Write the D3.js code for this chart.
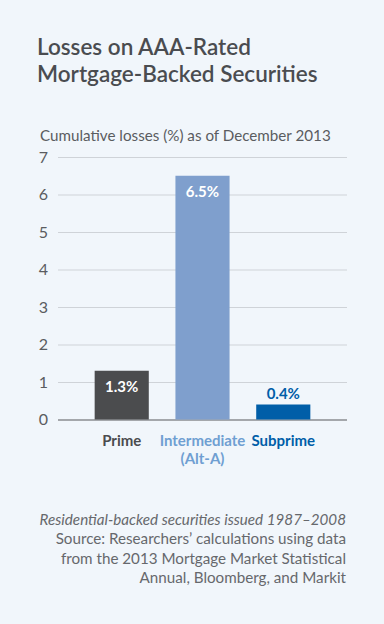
<!DOCTYPE html>
<html>
<head>
<meta charset="utf-8">
<script src="https://cdn.jsdelivr.net/npm/d3@7"></script>
<style>
  html, body { margin: 0; padding: 0; background: #f1f6fb; }
  svg { display: block; font-family: "Source Sans Pro", Lato, "Noto Sans", sans-serif; }
</style>
</head>
<body>
<svg id="chart" width="384" height="624"></svg>
<script>
  // Chart data.
  const categories = ['Prime', 'Intermediate', 'Subprime'];
  const subLabels = ['', '(Alt-A)', ''];
  const losses = [1.3, 6.5, 0.4];
  const yTicks = [0, 1, 2, 3, 4, 5, 6, 7];

  const barColors = ['#4b4c4e', '#7f9fcd', '#005ea8'];
  const labelColors = ['#4b4c4e', '#6f9fd2', '#005ea8'];
  const fontStack = '"Source Sans Pro", Lato, "Noto Sans", sans-serif';

  const svg = d3.select('#chart');

  svg.append('rect')
    .attr('width', 384).attr('height', 624)
    .attr('fill', '#f1f6fb');

  // Title.
  const title = svg.append('text')
    .attr('fill', '#4a4c50')
    .style('font-size', '22.5px')
    .style('font-weight', 600);
  title.append('tspan').attr('x', 37).attr('y', 55).text('Losses on AAA-Rated');
  title.append('tspan').attr('x', 37).attr('y', 82).text('Mortgage-Backed Securities');

  svg.append('text')
    .attr('x', 40).attr('y', 141)
    .attr('fill', '#5a5c60')
    .style('font-size', '15.2px')
    .text('Cumulative losses (%) as of December 2013');

  const left = 58, right = 347;

  const y = d3.scaleLinear()
    .domain([0, 7])
    .range([419.5, 157]);

  const x = d3.scaleBand()
    .domain(categories)
    .range([68, 337])
    .padding(0.33);

  // Gridlines + tick labels.
  const axis = svg.append('g')
    .attr('transform', `translate(${left},0)`)
    .call(d3.axisLeft(y).tickValues(yTicks).tickSize(-(right - left)).tickPadding(10).tickFormat(d3.format('d')));
  axis.attr('font-family', fontStack);
  axis.select('.domain').remove();
  axis.selectAll('.tick line')
    .attr('stroke', d => d === 0 ? '#8a8c90' : '#cfd3d8')
    .attr('stroke-width', d => d === 0 ? 1.5 : 1);
  axis.selectAll('.tick text')
    .attr('fill', '#5a5c60')
    .style('font-size', '16px');

  // Bars.
  svg.append('g').selectAll('rect')
    .data(losses)
    .join('rect')
    .attr('x', (d, i) => x(categories[i]))
    .attr('y', d => y(d))
    .attr('width', x.bandwidth())
    .attr('height', d => y(0) - y(d))
    .attr('fill', (d, i) => barColors[i]);

  // Value labels: inside the bar when there is room, above it otherwise.
  svg.append('g').selectAll('text')
    .data(losses)
    .join('text')
    .attr('x', (d, i) => x(categories[i]) + x.bandwidth() / 2)
    .attr('y', d => d > 1 ? y(d) + 21 : y(d) - 6)
    .attr('text-anchor', 'middle')
    .attr('fill', (d, i) => d > 1 ? '#ffffff' : barColors[i])
    .style('font-size', '15px')
    .style('font-weight', 700)
    .text(d => d3.format('.1f')(d) + '%');

  // Category labels.
  const cat = svg.append('g').selectAll('text')
    .data(categories)
    .join('text')
    .attr('x', d => x(d) + x.bandwidth() / 2)
    .attr('y', 446)
    .attr('text-anchor', 'middle')
    .attr('fill', (d, i) => labelColors[i])
    .style('font-size', '15px')
    .style('font-weight', 700);
  cat.append('tspan').text(d => d);
  cat.append('tspan')
    .attr('x', d => x(d) + x.bandwidth() / 2)
    .attr('dy', 18)
    .text((d, i) => subLabels[i]);

  // Notes.
  const notes = [
    { t: 'Residential-backed securities issued 1987\u20132008', italic: true },
    { t: 'Source: Researchers\u2019 calculations using data' },
    { t: 'from the 2013 Mortgage Market Statistical' },
    { t: 'Annual, Bloomberg, and Markit' }
  ];
  svg.append('g').selectAll('text')
    .data(notes)
    .join('text')
    .attr('x', 346)
    .attr('y', (d, i) => 525 + i * 19.3)
    .attr('text-anchor', 'end')
    .attr('fill', '#66686c')
    .style('font-size', d => d.italic ? '15.2px' : '15.2px')
    .style('font-style', d => d.italic ? 'italic' : 'normal')
    .text(d => d.t);
</script>
</body>
</html>
